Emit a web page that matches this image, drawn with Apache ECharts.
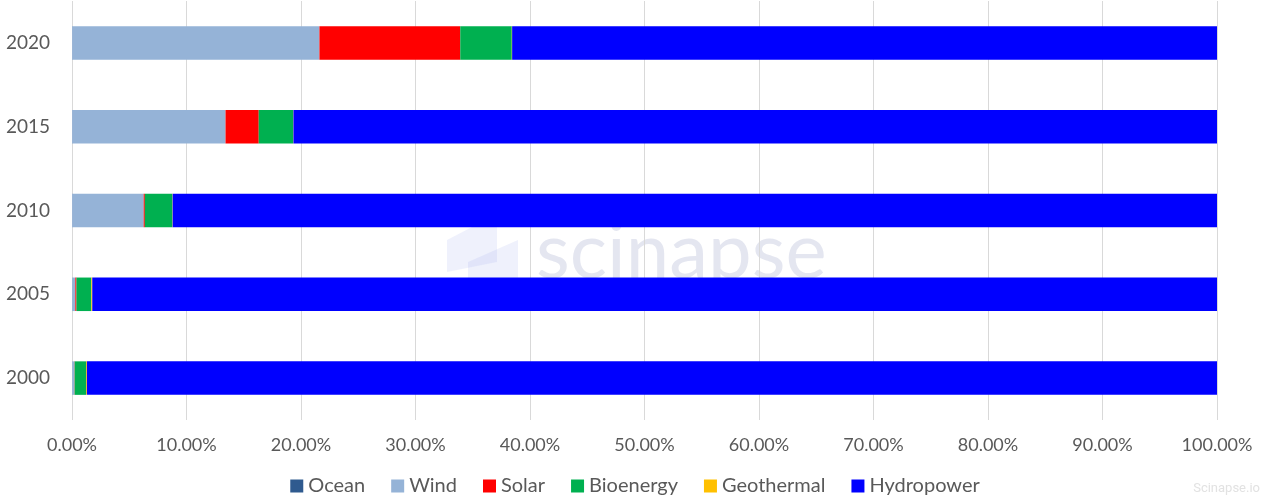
<!DOCTYPE html>
<html>
<head>
<meta charset="utf-8">
<script src="https://cdn.jsdelivr.net/npm/echarts@6/dist/echarts.min.js"></script>
<style>
  html, body { margin: 0; padding: 0; background: #fff; }
  #chart { width: 1270px; height: 500px; }
</style>
</head>
<body>
<div id="chart"></div>
<script>
// years, bottom to top
var years = ['2000', '2005', '2010', '2015', '2020']

// share of each source, in percent
var ocean = [0.01, 0.01, 0.01, 0.01, 0.01]
var wind = [0.2, 0.28, 6.25, 13.4, 21.6]
var solar = [0.02, 0.1, 0.1, 2.9, 12.3]
var bioenergy = [1.0, 1.3, 2.4, 3.0, 4.5]
var geothermal = [0.07, 0.08, 0.03, 0.03, 0.03]
var hydropower = [98.7, 98.23, 91.21, 80.66, 61.56]

var chart = echarts.init(document.getElementById('chart'))

function bar (name, color, data) {
  return {
    name: name,
    type: 'bar',
    stack: 'total',
    barWidth: '40%',
    itemStyle: { color: color },
    emphasis: { disabled: true },
    data: data
  }
}

var option = {
  animation: false,
  textStyle: { fontFamily: 'Lato' },
  grid: {
    left: 72,
    right: 53,
    top: 1,
    bottom: 80
  },
  legend: {
    top: 476,
    left: 'center',
    padding: 0,
    itemWidth: 13,
    itemHeight: 13,
    itemGap: 26,
    icon: 'rect',
    textStyle: { fontSize: 20, color: '#595959', fontFamily: 'Lato' },
    data: ['Ocean', 'Wind', 'Solar', 'Bioenergy', 'Geothermal', 'Hydropower']
  },
  xAxis: {
    type: 'value',
    min: 0,
    max: 100,
    interval: 10,
    axisLine: { show: false },
    axisTick: { show: false },
    axisLabel: {
      color: '#595959',
      fontSize: 18,
      margin: 16,
      formatter: function (v) { return v.toFixed(2) + '%' }
    },
    splitLine: { lineStyle: { color: '#d9d9d9', width: 1 } }
  },
  yAxis: {
    type: 'category',
    data: years,
    axisLine: { show: false },
    axisTick: { show: false },
    axisLabel: { color: '#595959', fontSize: 19, margin: 22 }
  },
  graphic: [
    {
      type: 'text',
      left: 536,
      top: 214,
      style: { text: 'scinapse', fontSize: 78, fontFamily: 'Lato', fill: 'rgba(120,130,180,0.2)' }
    },
    {
      type: 'polygon',
      shape: { points: [[447, 240], [497, 214], [497, 262], [447, 272]] },
      style: { fill: 'rgba(120,140,230,0.12)' }
    },
    {
      type: 'polygon',
      shape: { points: [[468, 262], [518, 240], [518, 282], [468, 296]] },
      style: { fill: 'rgba(120,140,230,0.12)' }
    },
    {
      type: 'text',
      right: 10,
      bottom: 5,
      style: { text: 'Scinapse.io', fontSize: 13, fontFamily: 'Roboto', fill: '#e2e2e2' }
    }
  ],
  series: [
    bar('Ocean', '#2f5a8f', ocean),
    bar('Wind', '#95b3d7', wind),
    bar('Solar', '#ff0000', solar),
    bar('Bioenergy', '#00b050', bioenergy),
    bar('Geothermal', '#ffc000', geothermal),
    bar('Hydropower', '#0000ff', hydropower)
  ]
}

chart.setOption(option)
</script>
</body>
</html>
